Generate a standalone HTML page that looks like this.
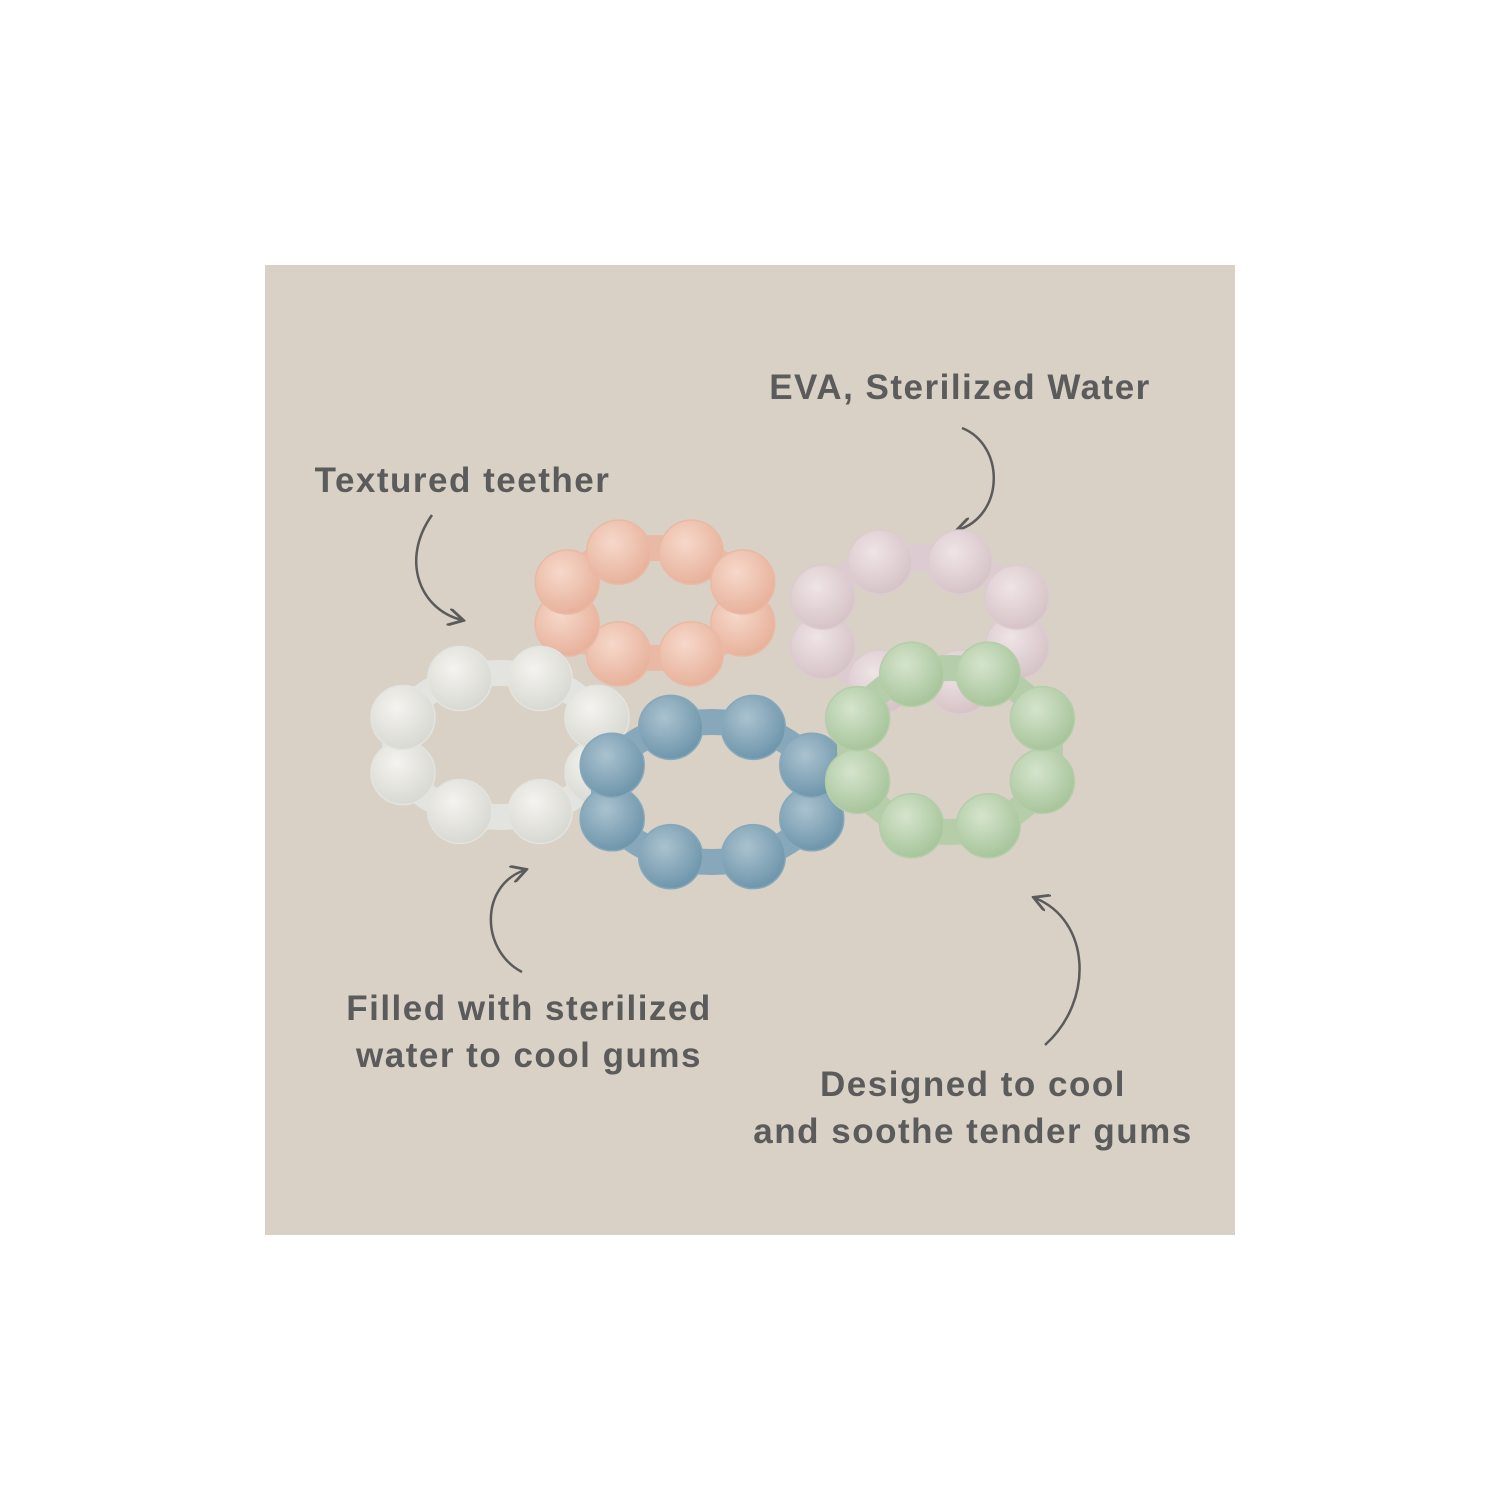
<!DOCTYPE html>
<html><head><meta charset="utf-8"><style>
html,body{margin:0;padding:0;background:#fff;width:1500px;height:1500px;overflow:hidden}
.panel{position:absolute;left:265px;top:265px;width:970px;height:970px;background:#d9d0c6}
.t{position:absolute;font-family:"Liberation Sans",sans-serif;font-weight:bold;color:#5b5b5b;font-size:35px;letter-spacing:1.5px;white-space:nowrap;text-align:center;line-height:47px}
svg{position:absolute;left:0;top:0}
</style></head><body>
<div class="panel"></div>
<svg width="1500" height="1500" viewBox="0 0 1500 1500">
<defs>
<radialGradient id="gp" cx="40%" cy="35%" r="65%"><stop offset="0" stop-color="#f6d8ca"/><stop offset="1" stop-color="#e8b29c"/></radialGradient>
<radialGradient id="gl" cx="40%" cy="35%" r="65%"><stop offset="0" stop-color="#efe4e6"/><stop offset="1" stop-color="#d6c3c8"/></radialGradient>
<radialGradient id="gw" cx="40%" cy="35%" r="65%"><stop offset="0" stop-color="#f4f3ef"/><stop offset="1" stop-color="#d9d9d3"/></radialGradient>
<radialGradient id="gb" cx="40%" cy="35%" r="65%"><stop offset="0" stop-color="#aac2cf"/><stop offset="1" stop-color="#6f96ac"/></radialGradient>
<radialGradient id="gg" cx="40%" cy="35%" r="65%"><stop offset="0" stop-color="#d5e4cc"/><stop offset="1" stop-color="#a8c59c"/></radialGradient>
<marker id="ah" viewBox="0 0 10 10" refX="8" refY="5" markerWidth="7" markerHeight="7" orient="auto"><path d="M0,0 L9,5 L0,10" fill="none" stroke="#5b5b5b" stroke-width="1.6"/></marker>
</defs>
<g stroke="#5b5b5b" stroke-width="2.5" fill="none" marker-end="url(#ah)">
<path d="M962,428 C1005,445 1005,515 958,530"/>
<path d="M432,515 C400,560 420,610 462,620"/>
<path d="M522,972 C480,950 480,885 525,870"/>
<path d="M1045,1045 C1095,1000 1090,920 1035,898"/>
</g>
<g id="rings"></g>
</svg>
<div class="t" style="left:740px;top:364px;width:440px">EVA, Sterilized Water</div>
<div class="t" style="left:290px;top:457px;width:345px">Textured teether</div>
<div class="t" style="left:309px;top:985px;width:440px">Filled with sterilized<br>water to cool gums</div>
<div class="t" style="left:713px;top:1061px;width:520px">Designed to cool<br>and soothe tender gums</div>
<script>
var g=document.getElementById('rings');var ns='http://www.w3.org/2000/svg';
var rings=[[655,603,95,55,'gp','#eab9a5'],[920,622,105,65,'gl','#dccbd0'],[500,745,105,72,'gw','#e3e3df'],[712,792,108,70,'gb','#87a8ba'],[950,750,100,82,'gg','#b5cda9']];
rings.forEach(function(r){
 var e=document.createElementNS(ns,'ellipse');e.setAttribute('cx',r[0]);e.setAttribute('cy',r[1]);e.setAttribute('rx',r[2]);e.setAttribute('ry',r[3]);
 e.setAttribute('fill','none');e.setAttribute('stroke',r[5]);e.setAttribute('stroke-width',26);g.appendChild(e);
 for(var i=0;i<8;i++){var a=i*Math.PI/4+Math.PI/8;var c=document.createElementNS(ns,'circle');
 c.setAttribute('cx',r[0]+r[2]*Math.cos(a));c.setAttribute('cy',r[1]+r[3]*Math.sin(a));c.setAttribute('r',32);
 c.setAttribute('fill','url(#'+r[4]+')');c.setAttribute('stroke',r[5]);c.setAttribute('stroke-width',1.5);g.appendChild(c);}
});
</script>
</body></html>
